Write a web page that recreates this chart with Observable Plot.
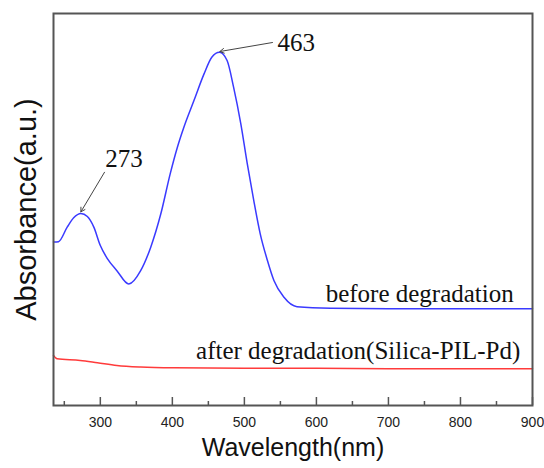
<!DOCTYPE html>
<html>
<head>
<meta charset="utf-8">
<script src="https://cdn.jsdelivr.net/npm/d3@7"></script>
<script src="https://cdn.jsdelivr.net/npm/@observablehq/plot@0.6"></script>
<style>
  html, body { margin: 0; padding: 0; background: #fff; }
</style>
</head>
<body>
<div id="chart"></div>
<script>
// Wavelength (nm) and absorbance (a.u.)
const beforeWavelength = [235, 242, 254, 263, 273, 282, 291, 300, 310, 323, 339.5, 356, 370, 384, 397, 407, 416, 430, 444, 455, 465.5, 476, 485, 495, 504, 513, 522, 532, 541, 555, 573, 620, 700, 800, 900];
const beforeAbsorb    = [0.417, 0.418, 0.455, 0.479, 0.490, 0.482, 0.455, 0.408, 0.374, 0.344, 0.310, 0.344, 0.404, 0.489, 0.591, 0.659, 0.710, 0.778, 0.846, 0.889, 0.901, 0.880, 0.812, 0.719, 0.617, 0.523, 0.438, 0.370, 0.319, 0.276, 0.252, 0.248, 0.247, 0.247, 0.247];
const afterWavelength = [235, 240, 272, 296, 323, 356, 402, 500, 600, 700, 800, 900];
const afterAbsorb     = [0.128, 0.119, 0.115, 0.109, 0.102, 0.098, 0.096, 0.095, 0.095, 0.094, 0.094, 0.094];

const xTicks = [300, 400, 500, 600, 700, 800, 900];
const xMinorTicks = [250, 350, 450, 550, 650, 750, 850];

// peak annotations: label, text position, arrow tail, arrow head
const peakLabels = ["273", "463"];
const peakTextX = [307, 546];
const peakTextY = [0.630, 0.926];
const peakTailX = [305.8, 539];
const peakTailY = [0.595, 0.926];
const peakHeadX = [273, 466];
const peakHeadY = [0.494, 0.903];

const seriesLabels = ["before degradation", "after degradation(Silica-PIL-Pd)"];
const seriesLabelX = [874, 883];
const seriesLabelY = [0.285, 0.140];

const before = beforeWavelength.map((x, i) => ({x, y: beforeAbsorb[i]}));
const after = afterWavelength.map((x, i) => ({x, y: afterAbsorb[i]}));
const peaks = peakLabels.map((t, i) => ({t, tx: peakTextX[i], ty: peakTextY[i], x1: peakTailX[i], y1: peakTailY[i], x2: peakHeadX[i], y2: peakHeadY[i]}));
const series = seriesLabels.map((t, i) => ({t, x: seriesLabelX[i], y: seriesLabelY[i]}));

const serif = "'Liberation Serif', 'Times New Roman', serif";
const sans = "'Liberation Sans', Arial, sans-serif";

const chart = Plot.plot({
  width: 544,
  height: 468,
  marginLeft: 53,
  marginRight: 12,
  marginTop: 13,
  marginBottom: 63,
  style: {background: "#fff", color: "#222"},
  x: {domain: [235, 900]},
  y: {domain: [0, 1], axis: null},
  marks: [
    Plot.axisX({ticks: xTicks, tickSize: 0, tickPadding: 12, fontSize: 14, fontFamily: sans, fill: "#222", label: null}),
    Plot.tickX(xTicks, {x: d => d, insetTop: 384, stroke: "#555", strokeWidth: 1.5}),
    Plot.tickX(xMinorTicks, {x: d => d, insetTop: 388, stroke: "#555", strokeWidth: 1.5}),
    Plot.line(after, {x: "x", y: "y", stroke: "#ff3b3b", strokeWidth: 1.5, curve: "monotone-x"}),
    Plot.line(before, {x: "x", y: "y", stroke: "#3a3aff", strokeWidth: 1.5, curve: "monotone-x"}),
    Plot.arrow(peaks, {x1: "x1", y1: "y1", x2: "x2", y2: "y2", stroke: "#444", strokeWidth: 1, headLength: 7}),
    Plot.text(peaks, {x: "tx", y: "ty", text: "t", textAnchor: "start", fontSize: 25, fontFamily: serif, fill: "#111"}),
    Plot.text(series, {x: "x", y: "y", text: "t", textAnchor: "end", fontSize: 25, fontFamily: serif, fill: "#111"}),
    Plot.text(["Wavelength(nm)"], {frameAnchor: "bottom", dy: 50, text: d => d, fontSize: 25, fontFamily: sans, fill: "#111"}),
    Plot.text(["Absorbance(a.u.)"], {frameAnchor: "left", dx: -27, rotate: -90, textAnchor: "middle", text: d => d, fontSize: 29, fontFamily: sans, fill: "#111"}),
    Plot.frame({stroke: "#555", strokeWidth: 2})
  ]
});
document.getElementById("chart").appendChild(chart);
</script>
</body>
</html>
